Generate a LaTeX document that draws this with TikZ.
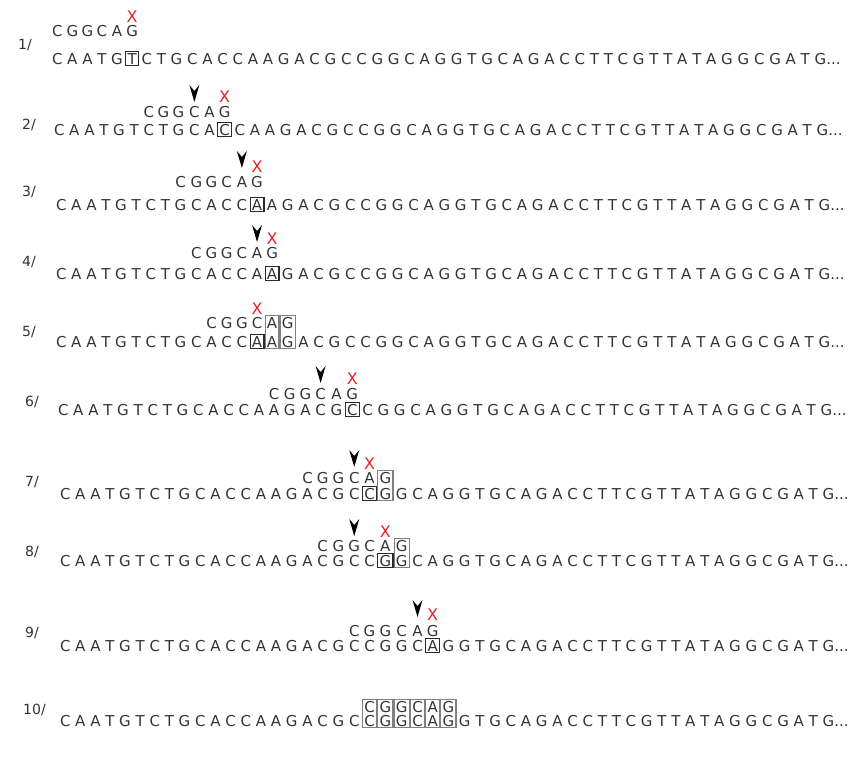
\documentclass[tikz,border=0pt]{standalone}
\usepackage{fontspec}
\setmainfont{DejaVu Sans}
\usetikzlibrary{calc}
\definecolor{txt}{HTML}{333333}
\definecolor{xred}{HTML}{E8202A}
\definecolor{gbox}{HTML}{808080}
\definecolor{dboxc}{HTML}{2A2A2A}
\newcommand\seqfont{\fontsize{15}{18}\selectfont}
\newcommand\labfont{\fontsize{14}{16}\selectfont}
\newcommand\xfont{\fontsize{16}{18}\selectfont}
\def\seqlist{C,A,A,T,G,T,C,T,G,C,A,C,C,A,A,G,A,C,G,C,C,G,G,C,A,G,G,T,G,C,A,G,A,C,C,T,T,C,G,T,T,A,T,A,G,G,C,G,A,T,G}
\def\patlist{C,G,G,C,A,G}
\tikzset{
  letter/.style={font=\seqfont, text=txt, inner sep=0pt, outer sep=0pt, text height=10.9pt, text depth=0pt, anchor=base west},
  lab/.style={font=\labfont, text=txt, inner sep=0pt, anchor=base west},
  xmark/.style={font=\xfont, text=xred, inner sep=0pt, anchor=base},
  dbox/.style={draw=dboxc, line width=1.2pt},
  tbox/.style={draw=gbox, line width=1.2pt},
  arrowc/.style={fill=black}
}
% a row of the text: name, left x, baseline y
\newcommand\seqrow[3]{%
  \node[inner sep=0pt, minimum size=0pt, anchor=base east] (#1-0) at (#2-4.77,#3) {};
  \foreach \l [count=\i, remember=\i as \j (initially 0)] in \seqlist {
    \node[letter] (#1-\i) at ([xshift=4.77pt]#1-\j.base east) {\l};
  }
  \node[letter] (#1-dots) at (#1-51.base east) {...};
}
% the pattern: row name, start position, baseline y
\newcommand\probe[3]{%
  \foreach \l [count=\k] in \patlist {
    \pgfmathtruncatemacro\t{#2+\k-1}
    \node[letter, anchor=base] (#1p-\k) at (#1-\t.base |- 0,#3) {\l};
  }
}
\newcommand\dboxat[1]{\draw[dbox] ($(#1.south west)+(-1.8pt,-1.8pt)$) rectangle ($(#1.north east)+(1.8pt,1.8pt)$);}
\newcommand\tboxat[2]{\draw[tbox] ($(#2.south west)+(-1.8pt,-1.8pt)$) rectangle ($(#1.north -| #2.east)+(1.8pt,1.8pt)$);}
\newcommand\arrowat[2]{\fill[arrowc] (#1.base |- 0,#2) -- ++(-5,-17) -- ++(5,6) -- ++(5,-6) -- cycle;}
\newcommand\xat[3]{\node[xmark] (#1) at (#2.base |- 0,#3) {X};}

\begin{document}
\begin{tikzpicture}[x=1pt,y=-1pt]
\useasboundingbox (0,0) rectangle (867,760);

% row 1
\node[lab] (l1) at (18,50) {1/};
\seqrow{r1}{52}{64}
\probe{r1}{1}{37}
\dboxat{r1-6}
\xat{x1}{r1p-6}{23}

% row 2
\node[lab] (l2) at (22,129) {2/};
\seqrow{r2}{54}{135}
\probe{r2}{7}{117}
\dboxat{r2-12}
\arrowat{r2p-4}{102}
\xat{x2}{r2p-6}{102}

% row 3
\node[lab] (l3) at (22,196) {3/};
\seqrow{r3}{56}{210}
\probe{r3}{9}{187}
\dboxat{r3-14}
\arrowat{r3p-5}{168}
\xat{x3}{r3p-6}{172}

% row 4
\node[lab] (l4) at (22,266) {4/};
\seqrow{r4}{56}{279}
\probe{r4}{10}{258}
\dboxat{r4-15}
\arrowat{r4p-5}{242}
\xat{x4}{r4p-6}{244}

% row 5
\node[lab] (l5) at (22,336) {5/};
\seqrow{r5}{56}{347}
\probe{r5}{11}{328}
\dboxat{r5-14}
\tboxat{r5p-5}{r5-15}
\tboxat{r5p-6}{r5-16}
\xat{x5}{r5p-4}{314}

% row 6
\node[lab] (l6) at (25,406) {6/};
\seqrow{r6}{58}{415}
\probe{r6}{15}{399}
\dboxat{r6-20}
\arrowat{r6p-4}{383}
\xat{x6}{r6p-6}{384}

% row 7
\node[lab] (l7) at (25,486) {7/};
\seqrow{r7}{60}{499}
\probe{r7}{17}{483}
\dboxat{r7-21}
\tboxat{r7p-6}{r7-22}
\arrowat{r7p-4}{467}
\xat{x7}{r7p-5}{469}

% row 8
\node[lab] (l8) at (25,556) {8/};
\seqrow{r8}{60}{566}
\probe{r8}{18}{551}
\dboxat{r8-22}
\tboxat{r8p-6}{r8-23}
\arrowat{r8p-3}{536}
\xat{x8}{r8p-5}{537}

% row 9
\node[lab] (l9) at (25,637) {9/};
\seqrow{r9}{60}{651}
\probe{r9}{20}{636}
\dboxat{r9-25}
\arrowat{r9p-5}{617}
\xat{x9}{r9p-6}{620}

% row 10
\node[lab] (l10) at (23,714) {10/};
\seqrow{r10}{60}{726}
\probe{r10}{21}{712}
\foreach \k [evaluate=\k as \t using int(20+\k)] in {1,...,6} {
  \tboxat{r10p-\k}{r10-\t}
}
\end{tikzpicture}
\end{document}
